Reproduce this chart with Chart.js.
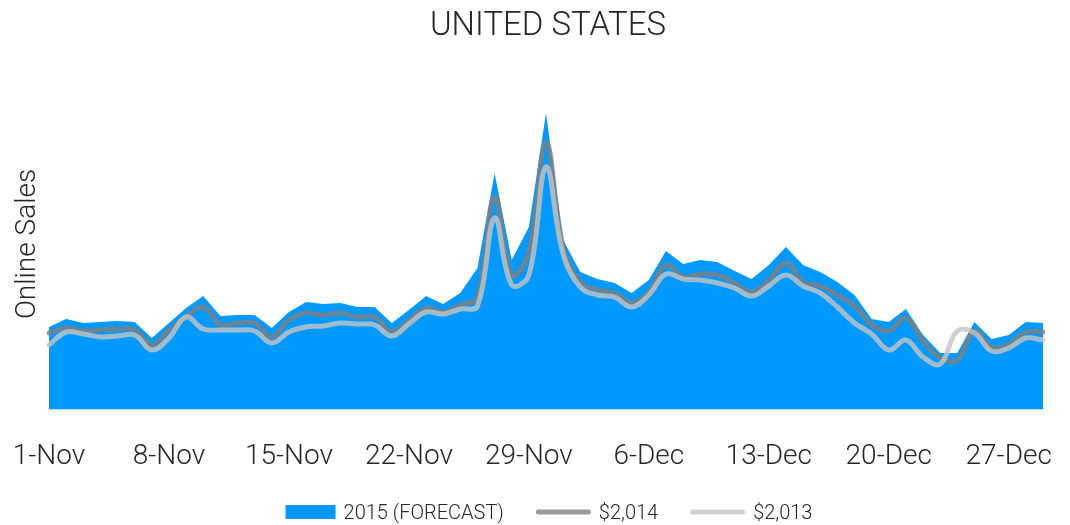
<!DOCTYPE html>
<html>
<head>
<meta charset="utf-8">
<script src="https://cdn.jsdelivr.net/npm/chart.js@4.4.1/dist/chart.umd.min.js"></script>
<style>
  html, body { margin: 0; padding: 0; background: #ffffff; }
  canvas { display: block; }
</style>
</head>
<body>
<canvas id="chart" width="1070" height="525"></canvas>
<script>
// Daily online sales, 1 Nov – 29 Dec
const days = [
  '1-Nov','2-Nov','3-Nov','4-Nov','5-Nov','6-Nov','7-Nov','8-Nov','9-Nov','10-Nov',
  '11-Nov','12-Nov','13-Nov','14-Nov','15-Nov','16-Nov','17-Nov','18-Nov','19-Nov','20-Nov',
  '21-Nov','22-Nov','23-Nov','24-Nov','25-Nov','26-Nov','27-Nov','28-Nov','29-Nov','30-Nov',
  '1-Dec','2-Dec','3-Dec','4-Dec','5-Dec','6-Dec','7-Dec','8-Dec','9-Dec','10-Dec',
  '11-Dec','12-Dec','13-Dec','14-Dec','15-Dec','16-Dec','17-Dec','18-Dec','19-Dec','20-Dec',
  '21-Dec','22-Dec','23-Dec','24-Dec','25-Dec','26-Dec','27-Dec','28-Dec','29-Dec'
];

const forecast2015 = [
  820, 900, 860, 870, 880, 870, 710, 860, 1010, 1130,
  930, 940, 940, 810, 970, 1070, 1050, 1060, 1020, 1020,
  860, 990, 1130, 1050, 1160, 1410, 2360, 1490, 1820, 2960,
  1690, 1370, 1300, 1260, 1160, 1290, 1580, 1450, 1490, 1470,
  1380, 1300, 1440, 1620, 1440, 1370, 1270, 1140, 900, 870,
  1000, 740, 560, 560, 870, 700, 740, 870, 860
];

const sales2014 = [
  760, 810, 780, 790, 800, 790, 640, 790, 920, 1020,
  840, 860, 860, 720, 890, 960, 940, 960, 920, 920,
  770, 890, 1010, 970, 1040, 1120, 2120, 1340, 1570, 2660,
  1620, 1270, 1190, 1160, 1060, 1170, 1440, 1320, 1350, 1340,
  1260, 1170, 1290, 1460, 1270, 1230, 1140, 1030, 840, 780,
  910, 680, 510, 490, 780, 620, 650, 770, 770
];

const sales2013 = [
  640, 770, 750, 720, 730, 740, 590, 710, 920, 800,
  790, 790, 780, 660, 770, 820, 830, 860, 850, 840,
  730, 850, 970, 950, 1000, 1030, 1910, 1240, 1340, 2420,
  1550, 1220, 1140, 1120, 1020, 1140, 1350, 1300, 1290, 1260,
  1210, 1130, 1230, 1340, 1230, 1160, 1020, 860, 750, 590,
  690, 520, 450, 780, 760, 580, 610, 710, 690
];

const seriesNames = ['2015 (FORECAST)', '$2,014', '$2,013'];
const chartTitle = 'UNITED STATES';
const axisTitle = 'Online Sales';
const tickEvery = 7;

const TEXT = '#262626';
const FONT = 'Roboto, "Open Sans", sans-serif';

// Title above the plot and a key below it, both centred on the plot area
const headerAndKey = {
  id: 'headerAndKey',
  afterDraw(chart) {
    const { ctx, chartArea } = chart;
    const cx = (chartArea.left + chartArea.right) / 2;
    ctx.save();
    ctx.fillStyle = TEXT;
    ctx.textBaseline = 'alphabetic';
    ctx.textAlign = 'center';
    ctx.font = '300 33px ' + FONT;
    ctx.fillText(chartTitle, cx + 2, 35);

    ctx.font = '300 20px ' + FONT;
    ctx.textAlign = 'left';
    const gap = 8, spacing = 32, baseline = 519, midY = 512;
    const items = chart.data.datasets.map(ds => ({
      ds,
      sw: ds.fill ? 50 : 55,
      tw: ctx.measureText(ds.label).width
    }));
    const total = items.reduce((s, it) => s + it.sw + gap + it.tw, 0) + spacing * (items.length - 1);
    let x = cx + 3 - total / 2;
    items.forEach(it => {
      if (it.ds.fill) {
        ctx.fillStyle = it.ds.backgroundColor;
        ctx.fillRect(x, midY - 7, it.sw, 14);
      } else {
        ctx.strokeStyle = it.ds.keyColor;
        ctx.lineWidth = it.ds.borderWidth;
        ctx.lineCap = 'round';
        ctx.beginPath();
        ctx.moveTo(x + 2.5, midY);
        ctx.lineTo(x + it.sw - 2.5, midY);
        ctx.stroke();
      }
      ctx.fillStyle = TEXT;
      ctx.fillText(it.ds.label, x + it.sw + gap, baseline);
      x += it.sw + gap + it.tw + spacing;
    });
    ctx.restore();
  }
};

new Chart(document.getElementById('chart'), {
  type: 'line',
  data: {
    labels: days,
    datasets: [
      {
        label: seriesNames[0],
        data: forecast2015,
        fill: 'origin',
        backgroundColor: '#0099ff',
        borderWidth: 0,
        borderColor: 'rgba(0,0,0,0)',
        tension: 0,
        pointRadius: 0,
        order: 3
      },
      {
        label: seriesNames[1],
        data: sales2014,
        fill: false,
        borderColor: 'rgba(128,128,128,0.8)',
        keyColor: '#999999',
        borderWidth: 5,
        borderCapStyle: 'round',
        borderJoinStyle: 'round',
        tension: 0.4,
        pointRadius: 0,
        order: 2
      },
      {
        label: seriesNames[2],
        data: sales2013,
        fill: false,
        borderColor: 'rgba(196,196,196,0.8)',
        keyColor: '#d0d0d0',
        borderWidth: 5,
        borderCapStyle: 'round',
        borderJoinStyle: 'round',
        tension: 0.4,
        pointRadius: 0,
        order: 1
      }
    ]
  },
  options: {
    responsive: false,
    animation: false,
    events: [],
    layout: { padding: { top: 79, right: 27, bottom: 56, left: 0 } },
    plugins: {
      legend: { display: false },
      title: { display: false },
      tooltip: { enabled: false }
    },
    scales: {
      x: {
        offset: false,
        grid: { display: false, drawTicks: false },
        border: { display: true, color: '#d9d9d9', width: 2 },
        ticks: {
          autoSkip: false,
          maxRotation: 0,
          minRotation: 0,
          padding: 31,
          color: TEXT,
          font: { family: FONT, size: 28, weight: '300' },
          callback(value, index) {
            return index % tickEvery === 0 ? this.getLabelForValue(value) : '';
          }
        },
        afterFit(scale) {
          scale.height = 60;
          scale.paddingLeft = 0;
          scale.paddingRight = 0;
        }
      },
      y: {
        min: 0,
        max: 3300,
        grid: { display: false, drawTicks: false },
        border: { display: false },
        ticks: { display: false },
        title: {
          display: true,
          text: axisTitle,
          color: TEXT,
          font: { family: FONT, size: 28, weight: '300' },
          padding: { top: 11, bottom: 0 }
        },
        afterFit(scale) {
          scale.width = 49;
          scale.paddingTop = 0;
          scale.paddingBottom = 0;
        }
      }
    }
  },
  plugins: [headerAndKey]
});
</script>
</body>
</html>
